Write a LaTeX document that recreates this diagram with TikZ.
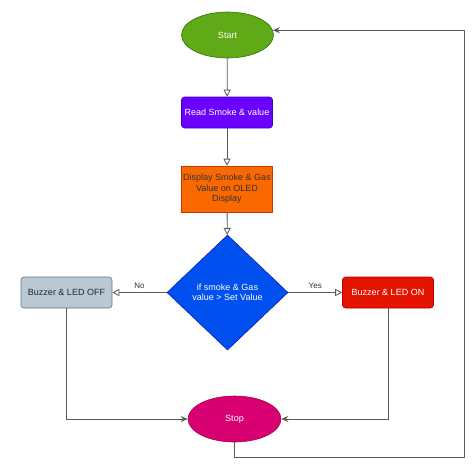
\documentclass[tikz,border=0pt]{standalone}
\usepackage{fontspec}
\setmainfont{Liberation Sans}
\usetikzlibrary{shapes.geometric,arrows.meta}
\definecolor{linegray}{HTML}{5A5A5A}
\definecolor{startfill}{HTML}{60A917}\definecolor{startdraw}{HTML}{2D7600}
\definecolor{readfill}{HTML}{6A00FF}\definecolor{readdraw}{HTML}{3700CC}
\definecolor{showfill}{HTML}{FA6800}\definecolor{showdraw}{HTML}{C73500}
\definecolor{testfill}{HTML}{0050EF}\definecolor{testdraw}{HTML}{001DBC}
\definecolor{offfill}{HTML}{BAC8D3}\definecolor{offdraw}{HTML}{5F7585}
\definecolor{onfill}{HTML}{E51400}\definecolor{ondraw}{HTML}{B20000}
\definecolor{stopfill}{HTML}{D80073}\definecolor{stopdraw}{HTML}{A50040}
\begin{document}
\begin{tikzpicture}[x=1pt,y=-1pt,font=\fontsize{9}{10.5}\selectfont,
  flow/.style={draw=linegray,line width=0.8pt,-{Triangle[open,length=7pt,width=7pt]}},
  back/.style={draw=linegray,line width=0.8pt,-{Stealth[length=7pt,width=6pt]}},
  oval/.style={ellipse,minimum width=92pt,minimum height=46pt,inner sep=0pt,line width=0.6pt},
  box/.style={rectangle,minimum width=91pt,inner sep=1pt,line width=0.6pt,align=center}]
  \useasboundingbox (0,0) rectangle (474,469);
  \node[oval,fill=startfill,draw=startdraw,text=white] (start) at (227.5,35) {Start};
  \node[box,rounded corners=3pt,minimum height=31pt,fill=readfill,draw=readdraw,text=white] (read) at (227,112.5) {Read Smoke \& value};
  \node[box,minimum height=46pt,fill=showfill,draw=showdraw,text=black!80] (show) at (227,189) {Display Smoke \& Gas\\Value on OLED\\Display};
  \node[diamond,aspect=1.05,minimum width=121pt,minimum height=115pt,inner sep=0pt,fill=testfill,draw=testdraw,text=white,align=center,line width=0.6pt] (test) at (227.5,292.5) {if smoke \& Gas\\value > Set Value};
  \node[box,rounded corners=3pt,minimum height=31pt,fill=offfill,draw=offdraw,text=black!85] (off) at (66.5,292.5) {Buzzer \& LED OFF};
  \node[box,rounded corners=3pt,minimum height=31pt,fill=onfill,draw=ondraw,text=white] (on) at (388,292.5) {Buzzer \& LED ON};
  \node[oval,minimum width=93pt,fill=stopfill,draw=stopdraw,text=white] (stop) at (234.5,419) {Stop};
  % main flow
  \draw[flow] (start) -- (read); \draw[flow] (read) -- (show); \draw[flow] (show) -- (test);
  \draw[flow] (test) -- node[above,font=\fontsize{8}{9}\selectfont,text=black!80] (no) {No} (off);
  \draw[flow] (test) -- node[above,font=\fontsize{8}{9}\selectfont,text=black!80] (yes) {Yes} (on);
  % into stop
  \draw[back] (off.south) |- (stop.west); \draw[back] (on.south) |- (stop.east);
  % loop back to start
  \coordinate (loop) at (464,457);
  \draw[back] (stop.south) |- (loop) |- (start.6);
\end{tikzpicture}
\end{document}
